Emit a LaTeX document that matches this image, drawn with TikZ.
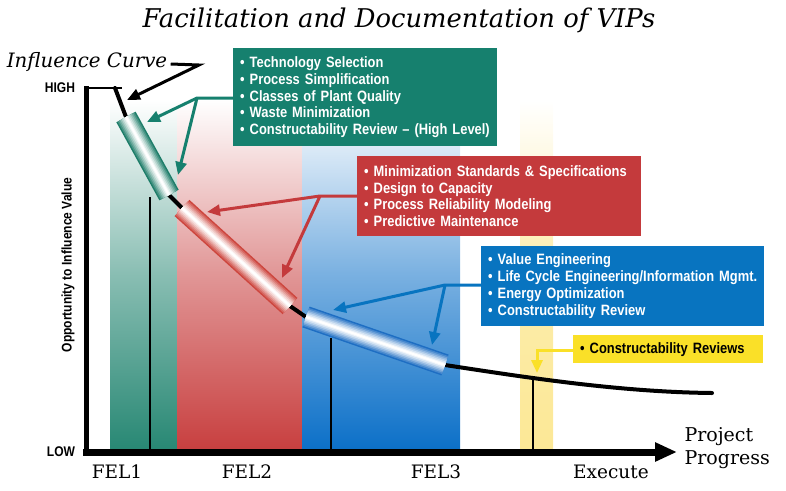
\documentclass[tikz,border=0pt]{standalone}
\usepackage{fontspec}
\setmainfont{DejaVu Serif}
\newfontfamily\condfont[FakeStretch=0.86]{Liberation Sans}
\usetikzlibrary{arrows.meta, positioning}

\definecolor{boxgreen}{RGB}{22,128,110}
\definecolor{boxred}{RGB}{196,58,60}
\definecolor{boxblue}{RGB}{8,116,192}
\definecolor{boxyellow}{RGB}{250,224,40}
\definecolor{bandgreen}{RGB}{40,136,116}
\definecolor{bandred}{RGB}{200,64,64}
\definecolor{bandblue}{RGB}{12,112,200}
\definecolor{bandyellow}{RGB}{252,232,150}
\definecolor{cylgreen}{RGB}{30,125,105}
\definecolor{cylred}{RGB}{205,70,62}
\definecolor{cylblue}{RGB}{30,110,195}

% shaded tube between two named points
\newcommand{\drawtube}[3]{%
    \foreach \w/\m in {22/0,19/18,16/35,13/52,10/68,7/82,4/94,2/100}
        \draw[line width=\w pt, white!\m!#1] (#2) -- (#3);}

\begin{document}
\begin{tikzpicture}[x=1pt, y=-1pt,
    listbox/.style={anchor=north west, inner xsep=7pt, inner ysep=0pt, align=left,
        text=white, font=\condfont\bfseries\fontsize{15}{16.8}\selectfont},
    pointer/.style={line width=3pt, draw=#1, -{Triangle[length=13pt,width=11pt]}},
    feltext/.style={font=\fontsize{18.5}{20}\selectfont},
    axistext/.style={font=\condfont\bfseries\fontsize{14}{15}\selectfont}]
    \useasboundingbox (0,0) rectangle (786,490);

    % Title
    \node[font=\itshape\fontsize{25.8}{30}\selectfont] (title) at (399,20) {Facilitation and Documentation of VIPs};

    % Phase bands
    \shade[top color=white, bottom color=bandgreen, middle color=bandgreen!55] (110,100) rectangle (177,449);
    \shade[top color=white, bottom color=bandred, middle color=bandred!55] (177,100) rectangle (302,449);
    \shade[top color=white, bottom color=bandblue, middle color=bandblue!55] (302,100) rectangle (460,449);
    \shade[top color=white, bottom color=bandyellow, middle color=bandyellow!80] (520,100) rectangle (553,449);

    % Drop lines
    \draw[line width=2pt] (150,197) -- (150,449);
    \draw[line width=2pt] (331,338) -- (331,449);
    \draw[line width=2pt] (533,377) -- (533,449);

    % Axes
    \draw[line width=5pt] (86,86) -- (86,452);
    \draw[line width=2.5pt] (86,88) -- (122,88);
    \draw[line width=7pt, -{Triangle[length=22pt,width=18pt]}] (83,452) -- (677,452);
    \node[axistext] (high) at (60,88) {HIGH};
    \node[axistext] (low) at (61,452) {LOW};
    \node[axistext, rotate=90] (yaxis) at (68,265) {Opportunity to Influence Value};

    % Influence curve with tubes
    \coordinate (c0) at (115,88);
    \coordinate (g1) at (126,117); \coordinate (g2) at (169,195);
    \coordinate (r1) at (182,208); \coordinate (r2) at (290,306);
    \coordinate (b1) at (306,317); \coordinate (b2) at (445,365);
    \coordinate (c9) at (712,393);
    \draw[line width=4pt, line join=round, line cap=round] (c0) -- (g1) -- (g2) -- (r1) -- (r2) -- (b1) -- (b2)
        .. controls (530,378) and (620,392) .. (c9);
    \drawtube{cylgreen}{g1}{g2}
    \drawtube{cylred}{r1}{r2}
    \drawtube{cylblue}{b1}{b2}

    % Phase labels
    \node[feltext] (fel1) at (117,472) {FEL1};
    \node[feltext] (fel2) at (247,472) {FEL2};
    \node[feltext] (fel3) at (436,472) {FEL3};
    \node[feltext] (exec) at (611,472) {Execute};
    \node[align=left, anchor=west, font=\fontsize{19}{23}\selectfont] (prog) at (681,448) {Project\\Progress};

    % Influence curve label
    \node[font=\itshape\fontsize{19.8}{22}\selectfont] (infl) at (87,62) {Influence Curve};
    \coordinate (ij) at (199,65);
    \coordinate (it) at (127,100);
    \draw[pointer=black] (infl.east |- 0,64) -- (ij) -- (it);

    % Boxes
    \node[listbox, fill=boxgreen, text width=250pt, minimum height=98pt] (gbox) at (233,48)
        {\textbullet\ Technology Selection\\ \textbullet\ Process Simplification\\
         \textbullet\ Classes of Plant Quality\\ \textbullet\ Waste Minimization\\
         \textbullet\ Constructability Review \textendash\ (High Level)};
    \node[listbox, fill=boxred, text width=270pt, minimum height=80pt] (rbox) at (357,156)
        {\textbullet\ Minimization Standards \& Specifications\\ \textbullet\ Design to Capacity\\
         \textbullet\ Process Reliability Modeling\\ \textbullet\ Predictive Maintenance};
    \node[listbox, fill=boxblue, text width=269pt, minimum height=80pt] (bbox) at (481,246)
        {\textbullet\ Value Engineering\\ \textbullet\ Life Cycle Engineering/Information Mgmt.\\
         \textbullet\ Energy Optimization\\ \textbullet\ Constructability Review};
    \node[listbox, fill=boxyellow, text=black, text width=176pt, minimum height=28pt] (ybox) at (573,335)
        {\textbullet\ Constructability Reviews};

    % Pointers
    \coordinate (gj) at (197,98);
    \draw[pointer=boxgreen] (gbox.west |- gj) -- (gj) -- (147,122);
    \draw[pointer=boxgreen] (gj) -- (178,175);
    \coordinate (rj) at (320,196);
    \draw[pointer=boxred] (rbox.west |- rj) -- (rj) -- (207,212);
    \draw[pointer=boxred] (rj) -- (282,278);
    \coordinate (bj) at (445,285);
    \draw[pointer=boxblue] (bbox.west |- bj) -- (bj) -- (333,310);
    \draw[pointer=boxblue] (bj) -- (432,345);
    \coordinate (yj) at (537,350);
    \draw[pointer=boxyellow] (ybox.west |- yj) -- (yj) -- (537,373);
\end{tikzpicture}
\end{document}
